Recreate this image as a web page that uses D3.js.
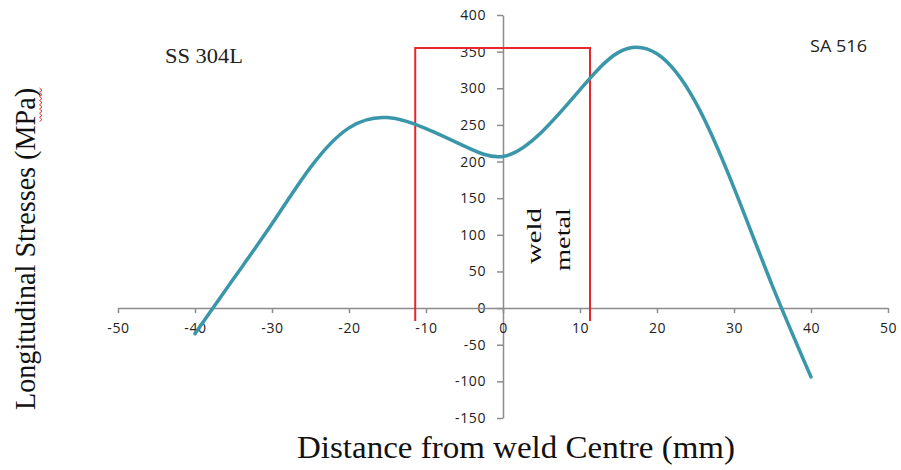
<!DOCTYPE html>
<html>
<head>
<meta charset="utf-8">
<script src="https://cdn.jsdelivr.net/npm/d3@7"></script>
<style>
  body { margin: 0; background: #fff; }
  svg { display: block; }
</style>
</head>
<body>
<div id="chart"></div>
<script>
const width = 901;
const height = 470;

// distance from weld centre (mm) and longitudinal stress (MPa)
const distance = [-40, -35, -30, -25, -20, -15, -10, -5, 0, 5, 10, 15, 20, 25, 30, 35, 40];
const stress   = [-35, 40, 115, 192, 246, 260, 245, 221, 207, 240, 298, 349, 347, 281, 164, 30, -94];

const xTicks = [-50, -40, -30, -20, -10, 0, 10, 20, 30, 40, 50];
const yTicks = [-150, -100, -50, 0, 50, 100, 150, 200, 250, 300, 350, 400];

// weld metal zone box
const weldX = [-11.4, 11.3];
const weldY = [-17.5, 355];

main();

function main() {
  const svg = d3.select("#chart").append("svg")
    .attr("width", width)
    .attr("height", height);

  const x = d3.scaleLinear().domain([-50, 50]).range([118, 888]);
  const y = d3.scaleLinear().domain([-150, 400]).range([418, 15]);

  const axisColor = "#8c8c8c";
  const tickFont = "'Open Sans', 'DejaVu Sans', sans-serif";
  const plain = d => String(d); // keep the hyphen minus like the original

  // y axis sits on x = 0
  const gy = svg.append("g")
    .attr("transform", `translate(${x(0)},0)`)
    .call(d3.axisLeft(y).tickValues(yTicks).tickFormat(plain)
      .tickSize(6).tickSizeOuter(0).tickPadding(11));

  // x axis sits on y = 0
  const gx = svg.append("g")
    .attr("transform", `translate(0,${y(0)})`)
    .call(d3.axisBottom(x).tickValues(xTicks).tickFormat(plain)
      .tickSize(5).tickSizeOuter(0).tickPadding(10));

  for (let g of [gx, gy]) {
    g.select(".domain").attr("stroke", axisColor).attr("stroke-width", 1.5);
    g.selectAll(".tick line").attr("stroke", axisColor).attr("stroke-width", 1.5);
    g.selectAll(".tick text")
      .attr("fill", "#222")
      .style("font-family", tickFont)
      .style("font-size", "14px")
      .style("letter-spacing", "0.6px");
  }

  // weld metal box (open at bottom)
  svg.append("path")
    .attr("d", d3.line()([
      [x(weldX[0]), y(weldY[0])],
      [x(weldX[0]), y(weldY[1])],
      [x(weldX[1]), y(weldY[1])],
      [x(weldX[1]), y(weldY[0])]
    ]))
    .attr("fill", "none")
    .attr("stroke", "#e8262b")
    .attr("stroke-width", 2);

  // stress curve
  const pts = distance.map((d, i) => [d, stress[i]]);
  const line = d3.line()
    .x(d => x(d[0]))
    .y(d => y(d[1]))
    .curve(d3.curveNatural);

  svg.append("path")
    .datum(pts)
    .attr("d", line)
    .attr("fill", "none")
    .attr("stroke", "#3a97a9")
    .attr("stroke-width", 3.5)
    .attr("stroke-linecap", "round");

  const serif = "'Liberation Serif', 'DejaVu Serif', serif";

  // weld / metal labels, rotated, reading upwards
  svg.append("text")
    .attr("transform", "translate(541,264) rotate(-90)")
    .attr("textLength", 56)
    .attr("lengthAdjust", "spacingAndGlyphs")
    .style("font-family", serif)
    .style("font-size", "20px")
    .attr("fill", "#111")
    .text("weld");

  svg.append("text")
    .attr("transform", "translate(570,271) rotate(-90)")
    .attr("textLength", 63)
    .attr("lengthAdjust", "spacingAndGlyphs")
    .style("font-family", serif)
    .style("font-size", "20px")
    .attr("fill", "#111")
    .text("metal");

  // material labels
  svg.append("text")
    .attr("x", 165)
    .attr("y", 63)
    .attr("textLength", 78)
    .attr("lengthAdjust", "spacingAndGlyphs")
    .style("font-family", serif)
    .style("font-size", "21px")
    .attr("fill", "#222")
    .text("SS 304L");

  svg.append("text")
    .attr("x", 810)
    .attr("y", 52)
    .attr("textLength", 57)
    .attr("lengthAdjust", "spacingAndGlyphs")
    .style("font-family", tickFont)
    .style("font-size", "16px")
    .attr("fill", "#222")
    .text("SA 516");

  // axis titles
  svg.append("text")
    .attr("x", 297)
    .attr("y", 458)
    .attr("textLength", 438)
    .attr("lengthAdjust", "spacingAndGlyphs")
    .style("font-family", serif)
    .style("font-size", "31px")
    .attr("fill", "#111")
    .text("Distance from weld Centre (mm)");

  svg.append("text")
    .attr("transform", "translate(35,410) rotate(-90)")
    .attr("textLength", 322)
    .attr("lengthAdjust", "spacingAndGlyphs")
    .style("font-family", serif)
    .style("font-size", "29px")
    .attr("fill", "#111")
    .text("Longitudinal Stresses (MPa)");

  // spell-check squiggle under "MPa"
  const sq = [];
  for (let i = 0; i <= 16; i++) sq.push([i % 2 ? 42 : 39.5, 88 + i * 2.1]);
  svg.append("path")
    .attr("d", d3.line()(sq))
    .attr("fill", "none")
    .attr("stroke", "#e0302a")
    .attr("stroke-width", 1);
}
</script>
</body>
</html>
